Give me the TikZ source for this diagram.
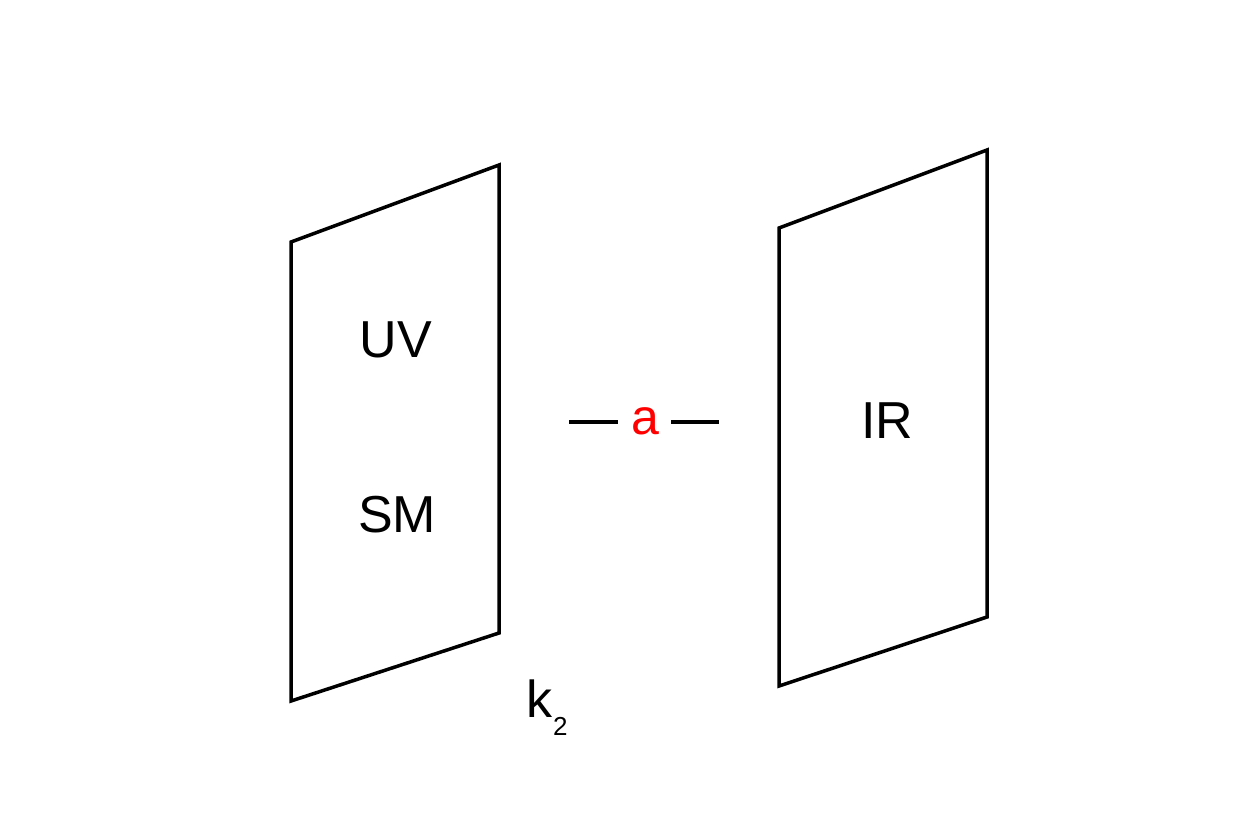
\documentclass[tikz,border=0pt]{standalone}
\usepackage{fontspec}
\setmainfont{Liberation Sans}
\begin{document}
\begin{tikzpicture}[x=1pt,y=-1pt,
  plane/.style={draw=black,line width=3.5pt,line join=miter},
  lbl/.style={anchor=base,inner sep=0pt,font=\fontsize{52}{52}\selectfont},
  dashline/.style={draw=black,line width=4pt}]
\useasboundingbox (0,0) rectangle (1252,835);
\draw[plane] (291,242) -- (499,165) -- (499,633) -- (291,701) -- cycle;
\draw[plane] (779,228) -- (987,150) -- (987,617) -- (779,686) -- cycle;
\node[lbl] (uv) at (396,357) {UV};
\node[lbl] (sm) at (397,532) {SM};
\node[lbl] (ir) at (887,438) {IR};
\node[lbl,text=red,font=\fontsize{50}{50}\selectfont] (a) at (645,434) {a};
\coordinate (d1a) at (569,422);
\coordinate (d1b) at (618,422);
\coordinate (d2a) at (671,422);
\coordinate (d2b) at (719,422);
\draw[dashline] (d1a) -- (d1b);
\draw[dashline] (d2a) -- (d2b);
\node[lbl,anchor=base west] (k) at (526,717) {k\hspace{1pt}\raisebox{-18pt}{\fontsize{26}{26}\selectfont 2}};
\end{tikzpicture}
\end{document}
